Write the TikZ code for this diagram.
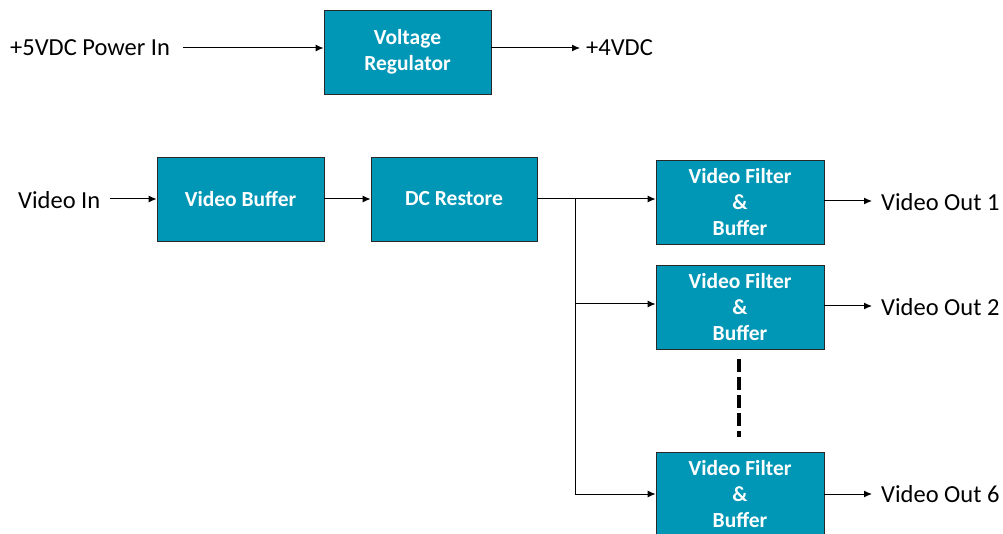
\documentclass[tikz,border=0pt]{standalone}
\usepackage{fontspec}
\setmainfont{Carlito}
\usetikzlibrary{arrows.meta}
\definecolor{blockfill}{RGB}{0,150,182}
\definecolor{blockline}{RGB}{40,40,40}
\tikzset{
  block/.style={draw=blockline, line width=0.9pt, fill=blockfill, text=white,
    font=\fontsize{21.5}{26}\selectfont\bfseries, align=center, inner sep=0pt},
  lbl/.style={font=\fontsize{24.5}{28}\selectfont, inner sep=0pt},
  conn/.style={line width=1pt, -{Latex[length=8pt,width=7pt]}},
  wire/.style={line width=1pt},
}
\begin{document}
\begin{tikzpicture}[x=1pt,y=-1pt]
\useasboundingbox (0,0) rectangle (1003,534);

% power section
\node[block, minimum width=167pt, minimum height=84pt] (vreg) at (407.5,52) {Voltage\\Regulator};
\node[lbl, anchor=west] (pin) at (10,48) {+5VDC Power In};
\node[lbl, anchor=west] (pout) at (586,48) {+4VDC};
\coordinate (pinend) at (183,48);
\coordinate (poutend) at (580,48);
\draw[conn] (pinend) -- (pinend -| vreg.west);
\draw[conn] (vreg.east |- poutend) -- (poutend);

% video chain
\node[block, minimum width=167pt, minimum height=84pt] (vbuf) at (240.5,199) {Video Buffer};
\node[block, minimum width=166pt, minimum height=84pt] (dcr) at (454,199) {DC Restore};
\node[lbl, anchor=west] (vin) at (18,200) {Video In};
\coordinate (vinend) at (110,199);
\draw[conn] (vinend) -- (vbuf.west);
\draw[conn] (vbuf.east) -- (dcr.west);

% filter / buffer outputs
\node[block, minimum width=168pt, minimum height=84pt] (f1) at (740,202) {Video Filter\\\&\\Buffer};
\node[block, minimum width=168pt, minimum height=84pt] (f2) at (740,307) {Video Filter\\\&\\Buffer};
\node[block, minimum width=168pt, minimum height=84pt] (f6) at (740,494) {Video Filter\\\&\\Buffer};

\coordinate (split) at (575,199);
\coordinate (bot) at (575,494);
\draw[wire] (dcr.east) -- (split);
\draw[conn] (split) -- (f1.west |- split);
\draw[wire] (split) -- (bot);
\draw[conn] (575,304) -- (f2.west |- 0,304);
\draw[conn] (bot) -- (f6.west);

\node[lbl, anchor=west] (o1) at (881,202) {Video Out 1};
\node[lbl, anchor=west] (o2) at (881,307) {Video Out 2};
\node[lbl, anchor=west] (o6) at (881,494) {Video Out 6};
\coordinate (e1) at (872,201);
\coordinate (e2) at (872,306);
\coordinate (e6) at (872,494);
\draw[conn] (f1.east |- e1) -- (e1);
\draw[conn] (f2.east |- e2) -- (e2);
\draw[conn] (f6.east |- e6) -- (e6);

% ellipsis between branches
\coordinate (dtop) at (739,359);
\coordinate (dbot) at (739,437);
\draw[line width=4pt, dash pattern=on 13pt off 5pt] (dtop) -- (dbot);
\end{tikzpicture}
\end{document}
